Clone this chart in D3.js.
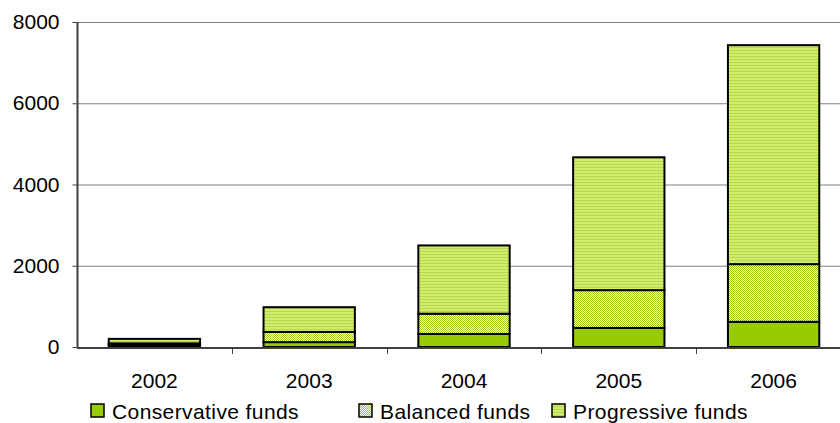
<!DOCTYPE html>
<html>
<head>
<meta charset="utf-8">
<script src="https://cdn.jsdelivr.net/npm/d3@7"></script>
<style>
body { margin: 0; background: #fff; }
svg { display: block; font-family: "Liberation Sans", Arial, sans-serif; }
</style>
</head>
<body>
<div id="chart"></div>
<script>
// data
var years = ["2002", "2003", "2004", "2005", "2006"];
var conservative = [50, 120, 320, 470, 620];
var balanced = [40, 250, 500, 930, 1420];
var progressive = [110, 610, 1680, 3270, 5390];
var seriesNames = ["Conservative funds", "Balanced funds", "Progressive funds"];
var yTicks = [0, 2000, 4000, 6000, 8000];

var W = 840, H = 423;
var svg = d3.select("#chart").append("svg").attr("width", W).attr("height", H);

var defs = svg.append("defs");
// checker pattern for balanced
var pb = defs.append("pattern").attr("id", "pBal").attr("patternUnits", "userSpaceOnUse")
	.attr("width", 2).attr("height", 2);
pb.append("rect").attr("width", 2).attr("height", 2).attr("fill", "#ffffff");
pb.append("rect").attr("width", 1).attr("height", 1).attr("fill", "#99cc00");
pb.append("rect").attr("x", 1).attr("y", 1).attr("width", 1).attr("height", 1).attr("fill", "#99cc00");
// narrow stripes for progressive
var pp = defs.append("pattern").attr("id", "pProg").attr("patternUnits", "userSpaceOnUse")
	.attr("width", 4).attr("height", 3);
pp.append("rect").attr("width", 4).attr("height", 3).attr("fill", "#d2ec6e");
pp.append("rect").attr("y", 2).attr("width", 4).attr("height", 1).attr("fill", "#b6d94c");

var fills = ["#99cc00", "url(#pBal)", "url(#pProg)"];

var x = d3.scaleBand().domain(years).range([77, 851]).paddingInner(0.41).paddingOuter(0.205);
var y = d3.scaleLinear().domain([0, 8000]).range([347, 22]);

// gridlines
svg.append("g").selectAll("line").data(yTicks.slice(1)).enter().append("line")
	.attr("x1", 77).attr("x2", W)
	.attr("y1", function(d) { return y(d) + 0.5; })
	.attr("y2", function(d) { return y(d) + 0.5; })
	.attr("stroke", "#808080").attr("stroke-width", 1);

// stacked bars
var rows = years.map(function(yr, i) {
	return { year: yr, c: conservative[i], b: balanced[i], p: progressive[i] };
});
var stack = d3.stack().keys(["c", "b", "p"])(rows);

svg.append("g").selectAll("g").data(stack).enter().append("g")
	.attr("fill", function(d, i) { return fills[i]; })
	.selectAll("rect").data(function(d) { return d; }).enter().append("rect")
	.attr("x", function(d) { return x(d.data.year); })
	.attr("width", x.bandwidth())
	.attr("y", function(d) { return y(d[1]); })
	.attr("height", function(d) { return y(d[0]) - y(d[1]); })
	.attr("stroke", "#000").attr("stroke-width", 2);

// y axis
var yAxis = svg.append("g").attr("transform", "translate(77.5,0)")
	.call(d3.axisLeft(y).tickValues(yTicks).tickSize(5).tickPadding(13).tickFormat(d3.format("d")));
yAxis.select(".domain").attr("stroke", "#404040").attr("stroke-width", 2).attr("d", "M0,22V348");
yAxis.selectAll(".tick line").attr("stroke", "#404040");
yAxis.selectAll("text").attr("font-size", 21).attr("fill", "#000").attr("font-family", "Liberation Sans, Arial, sans-serif");

// x axis
var xAxis = svg.append("g").attr("transform", "translate(0,348)")
	.call(d3.axisBottom(x).tickSize(0));
xAxis.select(".domain").attr("stroke", "#404040").attr("stroke-width", 2).attr("d", "M77,0H" + W);
xAxis.selectAll("text").attr("font-size", 21).attr("fill", "#000").attr("font-family", "Liberation Sans, Arial, sans-serif")
	.attr("dy", null).attr("y", 40);
svg.append("g").selectAll("line").data(years.slice(1)).enter().append("line")
	.attr("x1", function(d) { return Math.round(x(d) - x.step() * 0.205) + 0.5; })
	.attr("x2", function(d) { return Math.round(x(d) - x.step() * 0.205) + 0.5; })
	.attr("y1", 348).attr("y2", 354)
	.attr("stroke", "#404040");

// legend
var legX = [91, 359, 552];
var leg = svg.append("g").selectAll("g").data(seriesNames).enter().append("g")
	.attr("transform", function(d, i) { return "translate(" + legX[i] + ",404)"; });
leg.append("rect").attr("width", 13).attr("height", 13)
	.attr("fill", function(d, i) { return fills[i]; })
	.attr("stroke", "#000").attr("stroke-width", 1.5);
leg.append("text").attr("x", 21).attr("y", 15).attr("font-size", 21).attr("fill", "#000")
	.attr("letter-spacing", 0.4)
	.text(function(d) { return d; });
</script>
</body>
</html>
